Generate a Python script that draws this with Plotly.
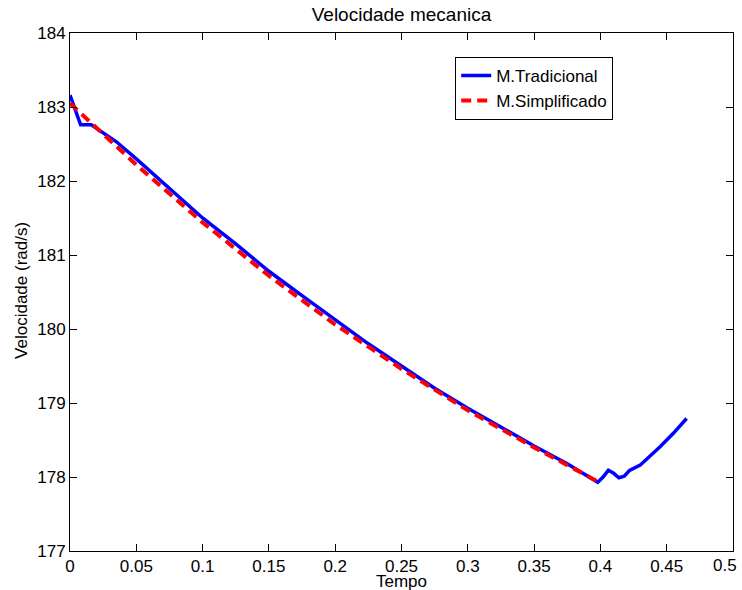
import plotly.graph_objects as go

# Tempo (s) e velocidade mecanica (rad/s) - modelo tradicional
t_trad = [0.0, 0.003, 0.008, 0.016, 0.025, 0.035, 0.05, 0.075, 0.1, 0.125,
          0.15, 0.175, 0.2, 0.225, 0.25, 0.275, 0.3, 0.325, 0.35, 0.375,
          0.398, 0.402, 0.406, 0.410, 0.414, 0.418, 0.422, 0.430, 0.437,
          0.445, 0.455, 0.465]
w_trad = [183.16, 183.0, 182.76, 182.76, 182.65, 182.53, 182.30, 181.90,
          181.50, 181.15, 180.78, 180.45, 180.12, 179.80, 179.50, 179.20,
          178.93, 178.67, 178.42, 178.18, 177.93, 178.00, 178.09, 178.05,
          177.99, 178.01, 178.09, 178.16, 178.27, 178.41, 178.59, 178.79]

# Modelo simplificado
t_simp = [0.0, 0.05, 0.1, 0.15, 0.2, 0.25, 0.3, 0.35, 0.4]
w_simp = [183.05, 182.22, 181.44, 180.72, 180.06, 179.46, 178.90, 178.40, 177.92]

x_ticks = [0, 0.05, 0.1, 0.15, 0.2, 0.25, 0.3, 0.35, 0.4, 0.45, 0.5]
x_labels = ["0", "0.05", "0.1", "0.15", "0.2", "0.25", "0.3", "0.35", "0.4", "0.45", ""]
x_last = 0.5
x_last_label = "0.5"
y_ticks = [177, 178, 179, 180, 181, 182, 183, 184]

FONT = "Liberation Sans, Arial, Helvetica, sans-serif"

fig = go.Figure()
fig.add_trace(go.Scatter(x=t_trad, y=w_trad, mode="lines", name="M.Tradicional",
                         line=dict(color="#0000FF", width=3.5)))
fig.add_trace(go.Scatter(x=t_simp, y=w_simp, mode="lines", name="M.Simplificado",
                         line=dict(color="#FF0000", width=4, dash="10px,6px")))

axis_common = dict(showgrid=False, zeroline=False, showline=True, linecolor="black",
                   linewidth=1, ticks="inside", ticklen=7, tickcolor="black",
                   mirror="ticks", automargin=False,
                   tickfont=dict(family=FONT, size=17, color="black"))

fig.update_layout(
    width=742, height=590,
    margin=dict(l=70, r=9, t=33, b=39),
    paper_bgcolor="white", plot_bgcolor="white",
    font=dict(family=FONT, size=17, color="black"),
    title=dict(text="Velocidade mecanica", x=0.5, xref="paper", y=1 - 14 / 590,
               yanchor="middle", xanchor="center",
               font=dict(family=FONT, size=19, color="black")),
    xaxis=dict(range=[0, 0.5], tickvals=x_ticks, ticktext=x_labels, **axis_common),
    yaxis=dict(range=[177, 184], tickvals=y_ticks, **axis_common),
    legend=dict(x=0.581, y=0.954, xanchor="left", yanchor="top",
                bordercolor="black", borderwidth=1, bgcolor="white",
                font=dict(family=FONT, size=17, color="black"),
                tracegroupgap=0),
    showlegend=True,
    annotations=[
        # last x tick label, kept inside the page edge
        dict(text=x_last_label, xref="x", yref="paper", x=x_last, y=0,
             xanchor="right", yanchor="top", xshift=6, yshift=-3,
             showarrow=False, font=dict(family=FONT, size=17, color="black")),
        dict(text="Tempo", xref="paper", yref="paper", x=0.5, y=-30 / 518,
             xanchor="center", yanchor="middle", showarrow=False,
             font=dict(family=FONT, size=17, color="black")),
        dict(text="Velocidade (rad/s)", xref="paper", yref="paper", x=-48 / 663,
             y=0.504, xanchor="center", yanchor="middle", textangle=-90,
             showarrow=False, font=dict(family=FONT, size=17, color="black")),
    ],
)

fig.write_html("out.html")
